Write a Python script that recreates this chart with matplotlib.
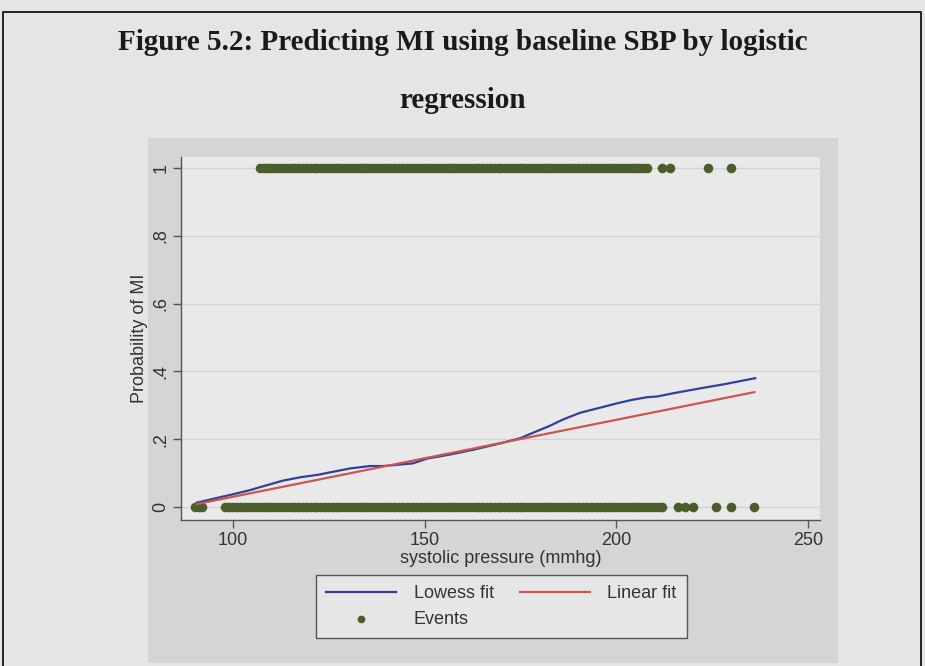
import matplotlib
matplotlib.use('Agg')
import matplotlib.pyplot as plt
from matplotlib.patches import Rectangle
from matplotlib.lines import Line2D

# ─── Data ─────────────────────────────────────────────────────────────────────
# baseline systolic pressure (mmhg) of patients with an MI during follow-up
sbp_mi = [107, 108, 109, 110, 111, 112, 113, 114, 115, 116, 117, 118, 119,
          120, 121, 122, 123, 124, 125, 126, 127, 128, 129, 130, 131, 132,
          133, 134, 135, 136, 137, 138, 139, 140, 141, 142, 143, 144, 145,
          146, 147, 148, 149, 150, 151, 152, 153, 154, 155, 156, 157, 158,
          159, 160, 161, 162, 163, 164, 165, 166, 167, 168, 169, 170, 171,
          172, 173, 174, 175, 176, 177, 178, 179, 180, 181, 182, 183, 184,
          185, 186, 187, 188, 189, 190, 191, 192, 193, 194, 195, 196, 197,
          198, 199, 200, 201, 202, 203, 204, 205, 206, 207, 208,
          212, 214, 224, 230]

# ... and of patients without one
sbp_no_mi = [90, 91, 92, 98, 99, 100, 101, 102, 103, 104, 105, 106, 107, 108,
             109, 110, 111, 112, 113, 114, 115, 116, 117, 118, 119, 120, 121,
             122, 123, 124, 125, 126, 127, 128, 129, 130, 131, 132, 133, 134,
             135, 136, 137, 138, 139, 140, 141, 142, 143, 144, 145, 146, 147,
             148, 149, 150, 151, 152, 153, 154, 155, 156, 157, 158, 159, 160,
             161, 162, 163, 164, 165, 166, 167, 168, 169, 170, 171, 172, 173,
             174, 175, 176, 177, 178, 179, 180, 181, 182, 183, 184, 185, 186,
             187, 188, 189, 190, 191, 192, 193, 194, 195, 196, 197, 198, 199,
             200, 201, 202, 203, 204, 205, 206, 207, 208, 209, 210, 211, 212,
             216, 218, 220, 226, 230, 236]

lowess_sbp = [90.5, 95, 100, 104.4, 108, 113, 117.5, 122, 126, 130.5, 135.7,
              139.1, 143, 146.9, 150.6, 156.6, 163, 169.7, 174.9, 178, 182.7,
              186, 190.5, 195.7, 200.2, 204, 208, 210.6, 215, 221.8, 228, 236.2]
lowess_prob = [0.013, 0.025, 0.038, 0.050, 0.062, 0.078, 0.088, 0.095, 0.104,
               0.114, 0.121, 0.121, 0.125, 0.129, 0.143, 0.155, 0.170, 0.188,
               0.203, 0.218, 0.240, 0.258, 0.278, 0.293, 0.306, 0.316, 0.324,
               0.326, 0.336, 0.350, 0.362, 0.380]

linear_sbp = [90.5, 236.0]
linear_prob = [0.009, 0.339]

x_ticks = [100, 150, 200, 250]
y_ticks = [0, 0.2, 0.4, 0.6, 0.8, 1]
y_tick_labels = ['0', '.2', '.4', '.6', '.8', '1']

# ─── Style ────────────────────────────────────────────────────────────────────
W, H = 925, 666
PAGE_BG = '#e5e5e5'
REGION_BG = '#d5d5d5'
PLOT_BG = '#e9e9e9'
AXIS_COL = '#555555'
TEXT_COL = '#333333'
BLUE = '#33409a'
RED = '#cc5550'
GREEN = '#4b5d2b'

plt.rcParams['font.family'] = ['Liberation Sans', 'DejaVu Sans']

fig = plt.figure(figsize=(W / 100, H / 100), dpi=100, facecolor=PAGE_BG)

# page frame (top, left and right edges)
fig.add_artist(Line2D([3 / W, 3 / W, 921 / W, 921 / W],
                      [0, 1 - 12 / H, 1 - 12 / H, 0],
                      transform=fig.transFigure, color='#222222', lw=1.4))

fig.text(0.5, 1 - 42 / H,
         'Figure 5.2: Predicting MI using baseline SBP by logistic',
         ha='center', va='center', fontsize=21, fontweight='bold',
         family='Liberation Serif', color='#1a1a1a')
fig.text(0.5, 1 - 100 / H, 'regression',
         ha='center', va='center', fontsize=21, fontweight='bold',
         family='Liberation Serif', color='#1a1a1a')

# graph region behind the plot
fig.add_artist(Rectangle((148 / W, 1 - 663 / H), (838 - 148) / W, (663 - 138) / H,
                         transform=fig.transFigure, facecolor=REGION_BG,
                         edgecolor='none', zorder=0))

ax = fig.add_axes([181 / W, 1 - 520 / H, 639 / W, 363 / H])
ax.set_facecolor(PLOT_BG)
ax.set_xlim(86.4, 253.1)
ax.set_ylim(-0.038, 1.032)

for side in ('top', 'right'):
    ax.spines[side].set_visible(False)
for side in ('left', 'bottom'):
    ax.spines[side].set_color(AXIS_COL)
    ax.spines[side].set_linewidth(1.0)

ax.set_xticks(x_ticks)
ax.set_yticks(y_ticks)
ax.set_yticklabels(y_tick_labels, rotation=90, va='center')
ax.tick_params(direction='out', length=5.5, width=1.0, color=AXIS_COL,
               labelsize=13, labelcolor=TEXT_COL, pad=3)
ax.yaxis.grid(True, color='#d3d3d3', lw=0.9)
ax.set_axisbelow(True)

ax.scatter(sbp_mi, [1] * len(sbp_mi), s=48, color=GREEN, linewidths=0,
           zorder=2, label='Events')
ax.scatter(sbp_no_mi, [0] * len(sbp_no_mi), s=48, color=GREEN, linewidths=0,
           zorder=2)
ax.plot(lowess_sbp, lowess_prob, color=BLUE, lw=1.6, zorder=3,
        label='Lowess fit')
ax.plot(linear_sbp, linear_prob, color=RED, lw=1.6, zorder=4,
        label='Linear fit')

ax.set_xlabel('systolic pressure (mmhg)', fontsize=13, color=TEXT_COL,
              labelpad=1)
ax.set_ylabel('Probability of MI', fontsize=13, color=TEXT_COL, labelpad=3)

h, lab = ax.get_legend_handles_labels()
order = [lab.index('Lowess fit'), lab.index('Events'), lab.index('Linear fit')]
leg = fig.legend([h[i] for i in order], [lab[i] for i in order],
                 loc='upper left', bbox_to_anchor=(316 / W, 1 - 575 / H),
                 bbox_transform=fig.transFigure, ncol=2, fontsize=13,
                 frameon=True, fancybox=False, handlelength=3.9,
                 handletextpad=0.95, columnspacing=1.45, borderpad=0.55,
                 labelspacing=0.5, borderaxespad=0, markerscale=0.8)
leg.get_frame().set_facecolor('#ebebeb')
leg.get_frame().set_edgecolor('#333333')
leg.get_frame().set_linewidth(1.0)
for t in leg.get_texts():
    t.set_color(TEXT_COL)

fig.savefig('out.png', dpi=100, facecolor=PAGE_BG)
